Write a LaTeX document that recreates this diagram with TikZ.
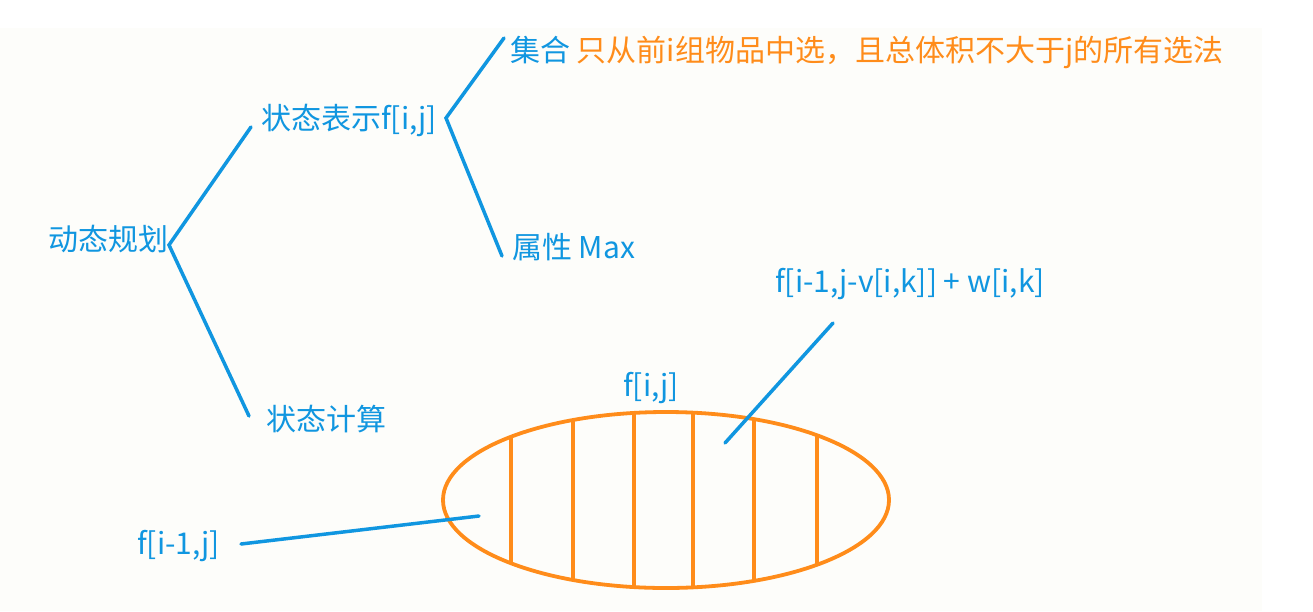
\documentclass[tikz,border=0pt]{standalone}
\usepackage{fontspec}
\setmainfont{Noto Sans CJK SC}
\definecolor{lineblue}{RGB}{16,150,224}
\definecolor{bagorange}{RGB}{255,140,26}
\definecolor{paper}{RGB}{253,253,250}
\tikzset{
  label text/.style={text=lineblue, inner sep=0pt, anchor=west, font=\fontsize{30}{36}\selectfont},
  branch/.style={draw=lineblue, line width=3.5pt, line cap=round},
}

\begin{document}
\begin{tikzpicture}[x=1pt, y=-1pt]
  \useasboundingbox (0,0) rectangle (1313,611);
  \fill[paper] (0,28) rectangle (1262,611);

  \node[label text] (dp)     at (48,239)  {动态规划};
  \node[label text] (repr)   at (261,120) {状态表示f[i,j]};
  \node[label text] (calc)   at (266,419) {状态计算};
  \node[label text] (set)    at (510,52)  {集合 \textcolor{bagorange}{只从前i组物品中选，且总体积不大于j的所有选法}};
  \node[label text] (attr)   at (512,247) {属性 Max};
  \node[label text] (fij)    at (623,388) {f[i,j]};
  \node[label text] (take)   at (775,284) {f[i-1,j-v[i,k]] + w[i,k]};
  \node[label text] (skip)   at (137,546) {f[i-1,j]};

  \coordinate (dp-r)   at (169,245);
  \coordinate (repr-l) at (251,127);
  \coordinate (calc-l) at (249,416);
  \coordinate (repr-r) at (446,118);
  \coordinate (set-l)  at (504,38);
  \coordinate (attr-l) at (502,256);
  \coordinate (take-b) at (833,323);
  \coordinate (take-e) at (725,443);
  \coordinate (skip-r) at (241,544);
  \coordinate (skip-e) at (479,516);

  \draw[branch] (repr-l) -- (dp-r) -- (calc-l);
  \draw[branch] (set-l) -- (repr-r) -- (attr-l);

  % the bag of choices
  \begin{scope}
    \clip (666,500) ellipse [x radius=223, y radius=88];
    \foreach \x in {511,573,634,693,754,817}
      \draw[bagorange, line width=3.2pt] (\x,400) -- (\x,600);
  \end{scope}
  \draw[bagorange, line width=3.8pt] (666,500) ellipse [x radius=223, y radius=88];

  \draw[branch] (take-b) -- (take-e);
  \draw[branch] (skip-r) -- (skip-e);
\end{tikzpicture}
\end{document}
